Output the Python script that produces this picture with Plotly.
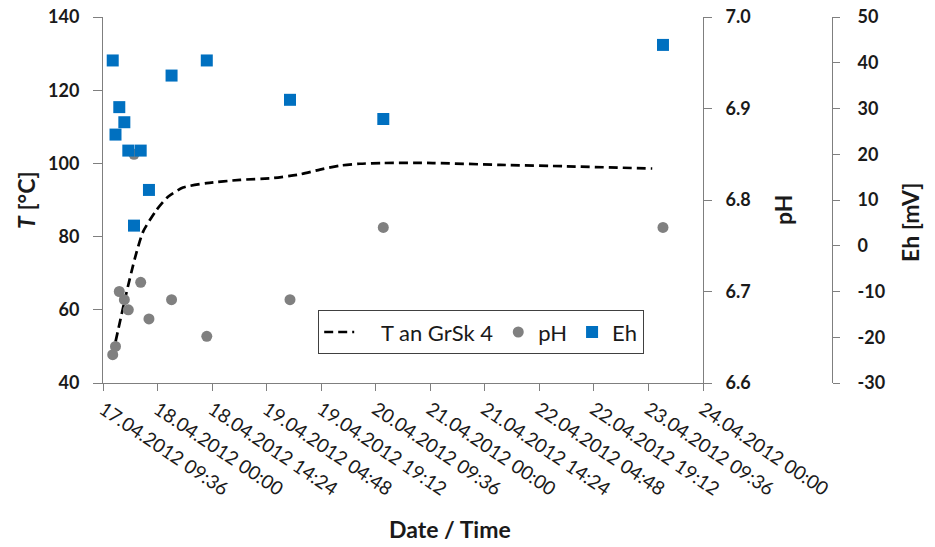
import plotly.graph_objects as go

# ---- data ----
t_times = ["2012-04-17 12:55", "2012-04-17 15:40", "2012-04-17 18:03", "2012-04-17 20:10",
           "2012-04-17 23:36", "2012-04-18 02:46", "2012-04-18 06:44", "2012-04-18 12:58",
           "2012-04-18 21:48", "2012-04-19 06:30", "2012-04-19 13:36", "2012-04-19 18:53",
           "2012-04-20 00:10", "2012-04-20 05:27", "2012-04-20 11:30", "2012-04-21 00:42",
           "2012-04-21 18:30", "2012-04-22 12:00", "2012-04-23 10:36"]
t_values = [51.3, 64.1, 74.2, 81.3, 87.1, 90.9, 93.4, 94.6, 95.5, 96.0, 97.0, 98.3,
            99.4, 99.9, 100.1, 100.1, 99.6, 99.2, 98.6]

m_times = ["2012-04-17 12:10", "2012-04-17 12:54", "2012-04-17 13:54", "2012-04-17 15:14",
           "2012-04-17 16:17", "2012-04-17 17:47", "2012-04-17 19:33", "2012-04-17 21:44",
           "2012-04-18 03:42", "2012-04-18 13:00", "2012-04-19 10:58", "2012-04-20 11:36",
           "2012-04-23 13:26"]
ph_values = [6.631, 6.640, 6.700, 6.691, 6.680, 6.850, 6.710, 6.670, 6.691, 6.651, 6.691,
             6.770, 6.770]
eh_values = [40.5, 24.3, 30.3, 27.0, 20.8, 4.4, 20.8, 12.2, 37.2, 40.5, 31.9, 27.7, 43.9]

x_range = ["2012-04-17 09:36", "2012-04-24 00:00"]
x_dtick_ms = 14.4 * 3600 * 1000

eh_ticks = [-30, -20, -10, 0, 10, 20, 30, 40, 50]
eh_ticklabels = ["-30", "-20", "-10", "0", "10", "20", "30", "40", "50"]

# ---- layout helpers (pixel -> paper) ----
W, H = 935, 547
L, R, T, B = 103, 103, 17, 164
PW = W - L - R
PH = H - T - B
def px(x):
    return (x - L) / PW
def py(y):
    return (H - B - y) / PH

FONT = "Lato"
AX = "#7f7f7f"
TXT = "#1a1a1a"

fig = go.Figure()
fig.add_trace(go.Scatter(x=t_times, y=t_values, mode="lines",
                         name="\u00a0\u00a0\u00a0\u00a0T an GrSk 4",
                         line=dict(color="black", width=2.7, dash="9px,5px", shape="spline",
                                   smoothing=0.6),
                         yaxis="y"))
fig.add_trace(go.Scatter(x=m_times, y=ph_values, mode="markers", name="pH",
                         marker=dict(color="#808080", size=11, symbol="circle"),
                         yaxis="y2"))
fig.add_trace(go.Scatter(x=m_times, y=eh_values, mode="markers", name="Eh",
                         marker=dict(color="#0070C0", size=12, symbol="square"),
                         yaxis="y3"))

tickfont_b = dict(family=FONT, size=18, color=TXT, weight="bold")

fig.update_layout(
    width=W, height=H,
    margin=dict(l=L, r=R, t=T, b=B, autoexpand=False),
    plot_bgcolor="white", paper_bgcolor="white",
    font=dict(family=FONT, color=TXT),
    showlegend=True,
    legend=dict(x=px(318), y=py(310), xanchor="left", yanchor="top",
                orientation="h", bordercolor="#404040", borderwidth=1.2,
                font=dict(family=FONT, size=22, color=TXT), bgcolor="white",
                itemwidth=30, tracegroupgap=0),
    xaxis=dict(type="date", range=x_range, domain=[0, px(703)], automargin=False,
               tick0=x_range[0], dtick=x_dtick_ms, tickformat="%d.%m.%Y %H:%M",
               tickangle=34, tickfont=dict(family=FONT, size=19, color=TXT),
               showgrid=False, zeroline=False, showline=True, linecolor=AX, linewidth=1,
               ticks="outside", ticklen=7, tickcolor=AX),
    yaxis=dict(range=[40, 140], dtick=20, tick0=40, showgrid=False, zeroline=False,
               automargin=False,
               showline=True, linecolor=AX, linewidth=1, ticks="outside", ticklen=9,
               tickcolor=AX, tickfont=tickfont_b, ticklabelstandoff=10),
    yaxis2=dict(range=[6.6, 7.0], dtick=0.1, tick0=6.6, tickformat=".1f", overlaying="y",
                side="right", anchor="x", showgrid=False, zeroline=False, showline=True,
                automargin=False,
                linecolor=AX, linewidth=1, ticks="outside", ticklen=8, tickcolor=AX,
                tickfont=tickfont_b, ticklabelstandoff=10),
    yaxis3=dict(range=[-30, 50], tickmode="array", tickvals=eh_ticks, ticktext=eh_ticklabels,
                overlaying="y", side="right", automargin=False,
                anchor="free", position=px(832), showgrid=False, zeroline=False,
                showline=True, linecolor=AX, linewidth=1, ticks="outside", ticklen=7,
                tickcolor=AX, tickfont=tickfont_b, ticklabelstandoff=14),
)

title_font = dict(family=FONT, size=23, color=TXT, weight="bold")
for txt, x, y, ang in [("<i>T</i> [°C]", 26, 200, -90), ("pH", 783, 210, -90),
                       ("Eh [mV]", 910, 222, -90), ("Date / Time", 450, 529, 0)]:
    fig.add_annotation(text=txt, x=px(x), y=py(y), xref="paper", yref="paper",
                       xanchor="center", yanchor="middle", textangle=ang,
                       showarrow=False, font=title_font)

fig.write_html("out.html")
